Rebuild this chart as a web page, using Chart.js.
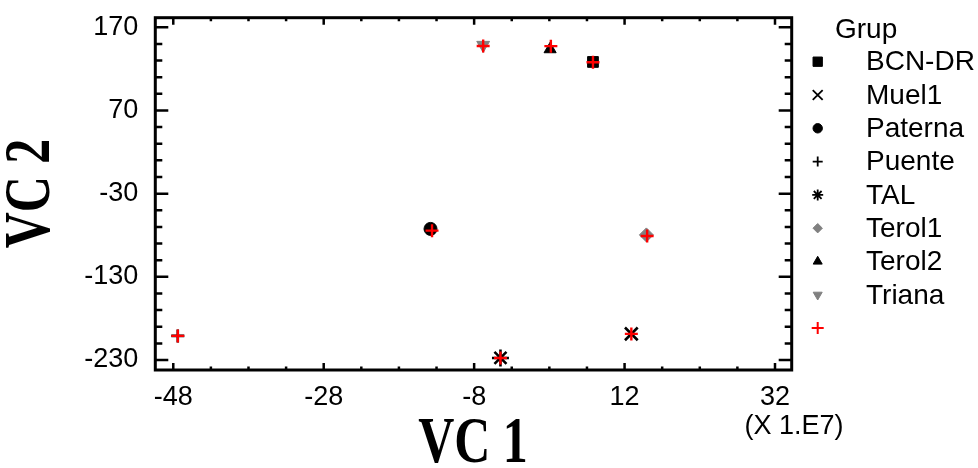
<!DOCTYPE html>
<html><head><meta charset="utf-8">
<script src="https://cdn.jsdelivr.net/npm/chart.js@4/dist/chart.umd.min.js"></script>
<style>html,body{margin:0;padding:0;background:#fff;}#wrap{width:978px;height:468px;position:relative;}</style>
</head><body><div id="wrap"><canvas id="c" width="978" height="468"></canvas></div>
<script>
// ---- data ----
const groups = ['BCN-DR','Muel1','Paterna','Puente','TAL','Terol1','Terol2','Triana'];
const vc1 = [7.8, 12.9, -13.8, -47.4, -4.5, 14.9, 2.1, -6.8];
const vc2 = [128.3, -198.6, -72.4, -201, -227.5, -79.6, 143.6, 148.6];
const centroidVc1 = [7.8, 12.9, -13.6, -47.4, -4.5, 15.0, 2.2, -6.8];
const centroidVc2 = [128.0, -198.6, -74.5, -201, -227.5, -80.9, 147.3, 147.5];
const xTicks = [-48, -28, -8, 12, 32];
const yTicks = [170, 70, -30, -130, -230];
const xTitle = 'VC 1', yTitle = 'VC 2', xMultiplier = '(X 1.E7)', legendTitle = 'Grup';

// ---- styles ----
const styles = [
  {ps:'rect', r:7.6, c:'#000', lr:6.6},
  {ps:'crossRot', r:9, c:'#000', lr:7},
  {ps:'circle', r:6.5, c:'#000', lr:4.7},
  {ps:'cross', r:6.5, c:'#000', lr:5},
  {ps:'star', r:8.5, c:'#000', lr:5.5},
  {ps:'rectRot', r:7, c:'#808080', lr:4.7},
  {ps:'triangle', r:7, c:'#000', lr:5.2},
  {ps:'triangle', r:7.4, c:'#808080', lr:5.2, rot:180}
];
const RED = '#ff0000';
const TICK_FONT = {family:'"Liberation Sans", Arial, sans-serif', size:27};
const LEGEND_FONT = '28px "Liberation Sans", Arial, sans-serif';

const datasets = groups.map((g,i)=>({
  label:g,
  data:[{x:vc1[i], y:vc2[i]}],
  pointStyle:styles[i].ps,
  pointRadius:styles[i].r,
  pointRotation:styles[i].rot||0,
  backgroundColor:styles[i].c,
  borderColor:styles[i].c,
  pointBorderWidth:(['cross','crossRot','star'].includes(styles[i].ps))?2.6:1,
  order:0
}));
datasets.push({
  label:'',
  data:centroidVc1.map((x,i)=>({x, y:centroidVc2[i]})),
  pointStyle:'cross', pointRadius:6.5, pointBorderWidth:2.4,
  borderColor:RED, backgroundColor:RED, order:-1
});

const zeroPad = s => { s.paddingTop = 0; s.paddingBottom = 0; s.paddingLeft = 0; s.paddingRight = 0; };

const frame = {
  id:'frame',
  beforeDatasetsDraw(chart){
    const {ctx, chartArea:a, scales:{x, y}} = chart;
    ctx.save();
    ctx.strokeStyle='#000';
    ctx.lineWidth=2.5;
    const xs = (xTicks[1]-xTicks[0])/4;
    for(let v=xTicks[0]; v<=xTicks[xTicks.length-1]+1e-9; v+=xs){
      const major = xTicks.some(t=>Math.abs(t-v)<1e-6);
      const L = major?7:3.5;
      const p = x.getPixelForValue(v);
      ctx.beginPath();
      ctx.moveTo(p, a.bottom); ctx.lineTo(p, a.bottom-L);
      ctx.moveTo(p, a.top); ctx.lineTo(p, a.top+L);
      ctx.stroke();
    }
    const ys = (yTicks[0]-yTicks[1])/5;
    for(let v=yTicks[yTicks.length-1]; v<=yTicks[0]+1e-9; v+=ys){
      const major = yTicks.some(t=>Math.abs(t-v)<1e-6);
      const L = major?13:7;
      const p = y.getPixelForValue(v);
      ctx.beginPath();
      ctx.moveTo(a.left, p); ctx.lineTo(a.left+L, p);
      ctx.moveTo(a.right, p); ctx.lineTo(a.right-L, p);
      ctx.stroke();
    }
    ctx.lineWidth=3;
    ctx.strokeRect(a.left, a.top, a.right-a.left, a.bottom-a.top);
    ctx.restore();
  },
  afterDraw(chart){
    const {ctx} = chart;
    ctx.save();
    ctx.fillStyle='#000';
    ctx.font='bold 50px "Liberation Serif", "Times New Roman", serif';
    ctx.textAlign='center'; ctx.textBaseline='middle';
    ctx.save(); ctx.translate(473, 445); ctx.scale(1,1.33); ctx.fillText(xTitle,0,0); ctx.restore();
    ctx.save(); ctx.translate(31.5, 193.5); ctx.rotate(-Math.PI/2); ctx.scale(1,1.33); ctx.fillText(yTitle,0,0); ctx.restore();
    ctx.font='27px "Liberation Sans", Arial, sans-serif';
    ctx.fillText(xMultiplier, 794, 427);
    ctx.font=LEGEND_FONT;
    ctx.textAlign='left';
    ctx.fillText(legendTitle, 835, 30);
    const H = Chart.helpers;
    chart.data.datasets.forEach((ds,i)=>{
      const yy = 61.7 + i*33.3;
      const st = styles[i];
      const col = st ? st.c : RED;
      ctx.fillStyle=col; ctx.strokeStyle=col;
      ctx.lineWidth = st ? ((['cross','crossRot','star'].includes(st.ps))?1.8:1) : 2;
      H.drawPoint(ctx, {pointStyle: st?st.ps:'cross', rotation: st&&st.rot?st.rot:0, radius: st?st.lr:6, borderWidth: ctx.lineWidth}, 817.7, yy);
      ctx.fillStyle='#000';
      ctx.fillText(ds.label, 866, yy+1);
    });
    ctx.restore();
  }
};

new Chart(document.getElementById('c'), {
  type:'scatter',
  data:{datasets},
  options:{
    responsive:false, animation:false, devicePixelRatio:1,
    layout:{padding:{left:0, top:17.7, right:186.3, bottom:0}},
    plugins:{legend:{display:false}, tooltip:{enabled:false}},
    scales:{
      x:{type:'linear', min:-50.39, max:34.22,
        afterBuildTicks:s=>{s.ticks = xTicks.map(v=>({value:v}));},
        afterFit:s=>{s.height = 98; zeroPad(s);},
        ticks:{font:TICK_FONT, color:'#000', padding:11, maxRotation:0, autoSkip:false, callback:v=>String(v)},
        grid:{display:false, drawTicks:false}, border:{display:false}},
      y:{type:'linear', min:-242, max:181.5,
        afterBuildTicks:s=>{s.ticks = yTicks.map(v=>({value:v}));},
        afterFit:s=>{s.width = 155.3; zeroPad(s);},
        ticks:{font:TICK_FONT, color:'#000', padding:17, autoSkip:false, callback:v=>String(v)},
        grid:{display:false, drawTicks:false}, border:{display:false}}
    }
  },
  plugins:[frame]
});
</script></body></html>
